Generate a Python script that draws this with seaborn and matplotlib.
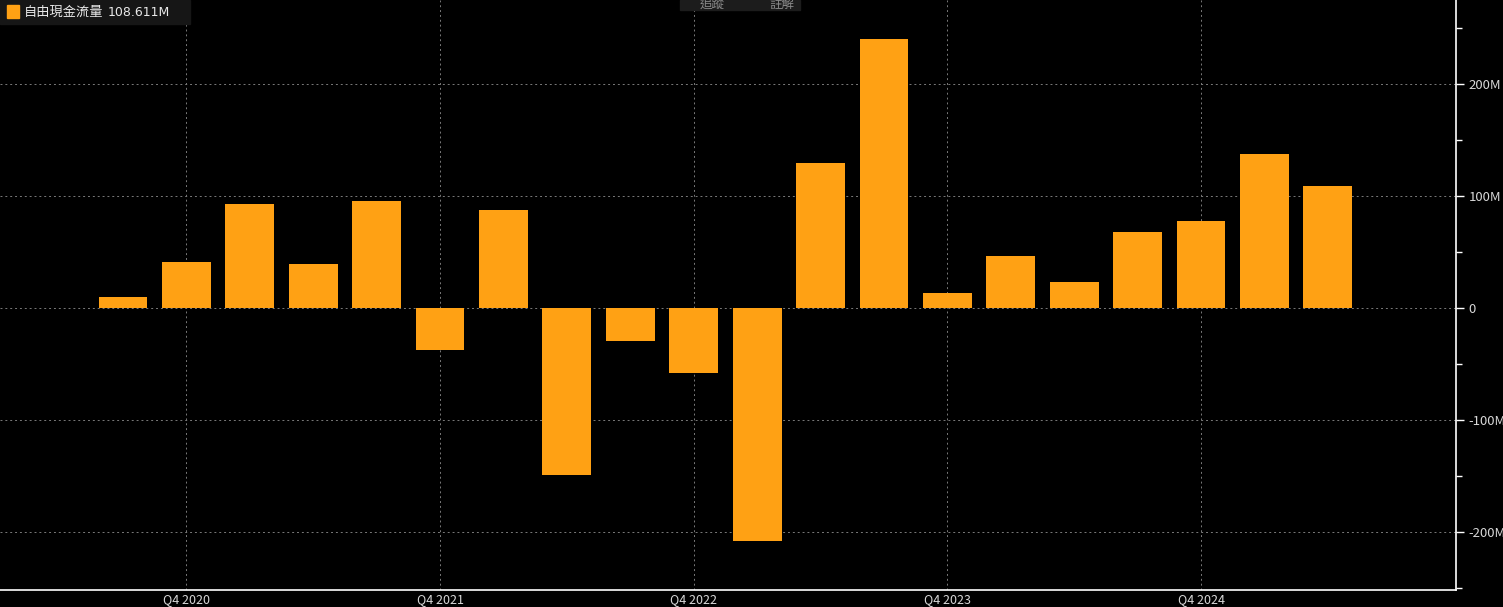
import numpy as np
import pandas as pd
import matplotlib
matplotlib.use("Agg")
import matplotlib.pyplot as plt
from matplotlib.ticker import FuncFormatter, MultipleLocator
import seaborn as sns

# Quarterly free cash flow (millions)
quarters = ["Q3 2020", "Q4 2020", "Q1 2021", "Q2 2021", "Q3 2021", "Q4 2021",
            "Q1 2022", "Q2 2022", "Q3 2022", "Q4 2022", "Q1 2023", "Q2 2023",
            "Q3 2023", "Q4 2023", "Q1 2024", "Q2 2024", "Q3 2024", "Q4 2024",
            "Q1 2025", "Q2 2025"]
fcf = [9.8, 41.0, 92.9, 39.3, 95.5, -37.5, 87.5, -149.0, -29.5, -58.0,
       -208.0, 129.5, 240.0, 13.4, 46.4, 23.2, 67.9, 77.7, 137.5, 108.611]
series_name = "自由現金流量"
last_label = "108.611M"

df = pd.DataFrame({"quarter": quarters, "fcf": fcf})

sns.set_style("dark")
plt.rcParams['font.family'] = ['Noto Sans CJK TC', 'DejaVu Sans']

fig = plt.figure(figsize=(15.03, 6.07), dpi=100, facecolor="black")
ax = fig.add_axes([0, 0.028, 0.9687, 0.972])
ax.set_facecolor("black")

sns.barplot(data=df, x="quarter", y="fcf", color="#FFA114", saturation=1,
            width=0.77, edgecolor="none", linewidth=0, ax=ax)

ax.set_xlim(-1.94, 21.02)
ax.set_ylim(-251.8, 275)

# only Q4 labels on x axis
q4 = [i for i, q in enumerate(quarters) if q.startswith("Q4")]
ax.set_xticks(q4)
ax.set_xticklabels([quarters[i] for i in q4])

ax.yaxis.tick_right()
ax.yaxis.set_major_locator(MultipleLocator(100))
ax.yaxis.set_minor_locator(MultipleLocator(50))
ax.yaxis.set_major_formatter(FuncFormatter(lambda v, p: "0" if v == 0 else f"{int(v)}M"))

ax.grid(True, which="major", color="#7a7a7a", linestyle=(0, (2, 3)), linewidth=0.7)
ax.set_axisbelow(True)

ax.tick_params(axis="both", colors="#d8d8d8", labelsize=9.5)
ax.tick_params(axis="y", which="major", length=6, width=1, pad=3, color="white")
ax.tick_params(axis="y", which="minor", length=4, width=1, color="white")
ax.tick_params(axis="x", length=2, color="white", pad=0.5, labelsize=9)

for side in ["top", "left"]:
    ax.spines[side].set_visible(False)
for side in ["right", "bottom"]:
    ax.spines[side].set_visible(True)
    ax.spines[side].set_color("white")
    ax.spines[side].set_linewidth(1.2)

ax.set_xlabel("")
ax.set_ylabel("")

# legend box top-left
fig.patches.append(plt.Rectangle((0, 1 - 24 / 607), 190 / 1503, 24 / 607,
                                 transform=fig.transFigure, color="#161616", zorder=5))
fig.patches.append(plt.Rectangle((7 / 1503, 1 - 18 / 607), 12 / 1503, 13 / 607,
                                 transform=fig.transFigure, color="#FFA114", zorder=6))
fig.text(24 / 1503, 1 - 12 / 607, series_name, color="#e8e8e8", fontsize=9.5,
         va="center", ha="left", zorder=7)
fig.text(108 / 1503, 1 - 12 / 607, last_label, color="#e8e8e8", fontsize=9,
         va="center", ha="left", zorder=7, family="DejaVu Sans")

# faint toolbar buttons
fig.patches.append(plt.Rectangle((680 / 1503, 1 - 10 / 607), 120 / 1503, 10 / 607,
                                 transform=fig.transFigure, color="#1c1c1c", zorder=5))
fig.text(712 / 1503, 1 - 4 / 607, "追蹤", color="#8a8a8a", fontsize=9,
         va="center", ha="center", zorder=7)
fig.text(782 / 1503, 1 - 4 / 607, "註解", color="#8a8a8a", fontsize=9,
         va="center", ha="center", zorder=7)

fig.savefig("out.png", dpi=100, facecolor="black")
